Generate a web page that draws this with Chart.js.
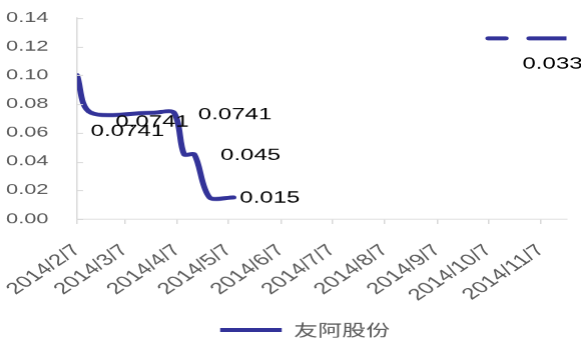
<!DOCTYPE html>
<html>
<head>
<meta charset="utf-8">
<script src="https://cdn.jsdelivr.net/npm/chart.js@4.4.1/dist/chart.umd.min.js"></script>
<style>
  html, body { margin: 0; padding: 0; background: #ffffff; overflow: hidden; }
  #wrap { width: 581px; height: 342px; position: relative; overflow: hidden; }
  /* the drawing is laid out narrow and widened sideways */
  #chart { position: absolute; left: 0; top: 0; transform-origin: 0 0; transform: scaleX(1.5013); }
</style>
</head>
<body>
<div id="wrap"><canvas id="chart" width="387" height="342"></canvas></div>
<script>
// Month ticks on the date axis
const tickLabels = ['2014/2/7', '2014/3/7', '2014/4/7', '2014/5/7', '2014/6/7',
                    '2014/7/7', '2014/8/7', '2014/9/7', '2014/10/7', '2014/11/7'];
const axisEnd = '2014/11/22';

// 友阿股份
const seriesName = '友阿股份';
const mainDates  = ['2014/2/7', '2014/2/15', '2014/3/24', '2014/4/5', '2014/4/11', '2014/4/17', '2014/4/26', '2014/5/10'];
const mainValues = [0.1, 0.0741, 0.0741, 0.0741, 0.045, 0.045, 0.015, 0.015];

// later segment, plotted against the second value axis
const tailDates  = ['2014/10/7', '2014/11/22'];
const tailValues = [0.033, 0.033];

const yTicks = [0, 0.02, 0.04, 0.06, 0.08, 0.10, 0.12, 0.14];

function dayOf(s) {
  const p = s.split('/').map(Number);
  return (Date.UTC(p[0], p[1] - 1, p[2]) - Date.UTC(2014, 1, 7)) / 86400000;
}
const toPoints = (dates, vals) => dates.map((d, i) => ({ x: dayOf(d), y: vals[i] }));

const LINE = '#333399';
const AXIS = '#d9d9d9';
const TEXT = '#595959';

// value labels: which points carry one, and where the text sits relative to the point
const valueLabels = {
  0: { 1: [24.5, 19], 2: [-0.9, 9.4], 3: [40.6, 2], 5: [37.4, 1.3], 7: [24.2, 0.7] },
  1: { 1: [-9.3, 26] }
};

const valueLabelPlugin = {
  id: 'valueLabels',
  afterDatasetsDraw(chart) {
    const ctx = chart.ctx;
    ctx.save();
    ctx.font = '16px "Liberation Sans", Arial, sans-serif';
    ctx.fillStyle = '#000000';
    ctx.textAlign = 'center';
    ctx.textBaseline = 'middle';
    Object.keys(valueLabels).forEach(di => {
      const meta = chart.getDatasetMeta(+di);
      const ds = chart.data.datasets[+di];
      const marks = valueLabels[di];
      Object.keys(marks).forEach(i => {
        const el = meta.data[+i];
        const off = marks[i];
        ctx.fillText(String(ds.data[+i].y), el.x + off[0], el.y + off[1]);
      });
    });
    ctx.restore();
  }
};

// short tick marks on the inner side of the value axis
const innerTicksPlugin = {
  id: 'innerTicks',
  afterDraw(chart) {
    const s = chart.scales.y;
    const ctx = chart.ctx;
    ctx.save();
    ctx.strokeStyle = AXIS;
    ctx.lineWidth = 1;
    s.ticks.forEach(t => {
      const y = Math.round(s.getPixelForValue(t.value)) + 0.5;
      ctx.beginPath();
      ctx.moveTo(s.right, y);
      ctx.lineTo(s.right + 4, y);
      ctx.stroke();
    });
    ctx.restore();
  }
};

// legend row sits a little right of centre
const legendShift = {
  id: 'legendShift',
  afterLayout(chart) {
    chart.legend.left += 12.5;
    chart.legend.right += 12.5;
  }
};

new Chart(document.getElementById('chart'), {
  type: 'line',
  data: {
    datasets: [
      {
        label: seriesName,
        data: toPoints(mainDates, mainValues),
        borderColor: LINE,
        backgroundColor: LINE,
        borderWidth: 4,
        tension: 0.3,
        pointRadius: 0,
        borderCapStyle: 'round',
        borderJoinStyle: 'round',
        yAxisID: 'y'
      },
      {
        label: seriesName,
        data: toPoints(tailDates, tailValues),
        borderColor: LINE,
        backgroundColor: LINE,
        borderWidth: 4,
        borderDash: [11.5, 15.8, 200],
        borderCapStyle: 'round',
        pointRadius: 0,
        yAxisID: 'y2'
      }
    ]
  },
  options: {
    responsive: false,
    animation: false,
    devicePixelRatio: 1.5,
    events: [],
    layout: { padding: { top: 0, right: 10, left: 4, bottom: -6 } },
    scales: {
      x: {
        type: 'linear',
        min: 0,
        max: dayOf(axisEnd),
        afterBuildTicks(scale) {
          scale.ticks = tickLabels.map(l => ({ value: dayOf(l) }));
        },
        afterFit(scale) {
          scale.height = 97;
          scale.paddingLeft = 0;
          scale.paddingRight = 0;
        },
        ticks: {
          autoSkip: false,
          minRotation: 45,
          maxRotation: 45,
          padding: 17,
          color: TEXT,
          font: { family: '"Liberation Sans", Arial, sans-serif', size: 16 },
          callback(value) {
            const hit = tickLabels.find(l => dayOf(l) === value);
            return hit || '';
          }
        },
        grid: { drawOnChartArea: false, drawTicks: true, tickLength: 5, color: AXIS },
        border: { color: AXIS }
      },
      y: {
        min: 0,
        max: 0.14,
        afterBuildTicks(scale) {
          scale.ticks = yTicks.map(v => ({ value: v }));
        },
        afterFit(scale) {
          scale.width = 47.3;
          scale.paddingTop = 18;
          scale.paddingBottom = 8;
        },
        ticks: {
          padding: 19,
          color: TEXT,
          font: { family: '"Liberation Sans", Arial, sans-serif', size: 14.5 },
          callback: v => v.toFixed(2)
        },
        grid: { drawOnChartArea: false, drawTicks: false },
        border: { color: AXIS }
      },
      y2: { display: false, min: 0, max: 0.0367 }
    },
    plugins: {
      tooltip: { enabled: false },
      legend: {
        position: 'bottom',
        labels: {
          boxWidth: 41,
          boxHeight: 4,
          padding: 6,
          color: TEXT,
          font: { family: '"Noto Sans CJK SC", sans-serif', size: 16 },
          generateLabels() {
            return [{ text: seriesName, fillStyle: LINE, strokeStyle: LINE, lineWidth: 0,
                      hidden: false, datasetIndex: 0, fontColor: TEXT }];
          }
        }
      }
    }
  },
  plugins: [valueLabelPlugin, innerTicksPlugin, legendShift]
});
</script>
</body>
</html>
